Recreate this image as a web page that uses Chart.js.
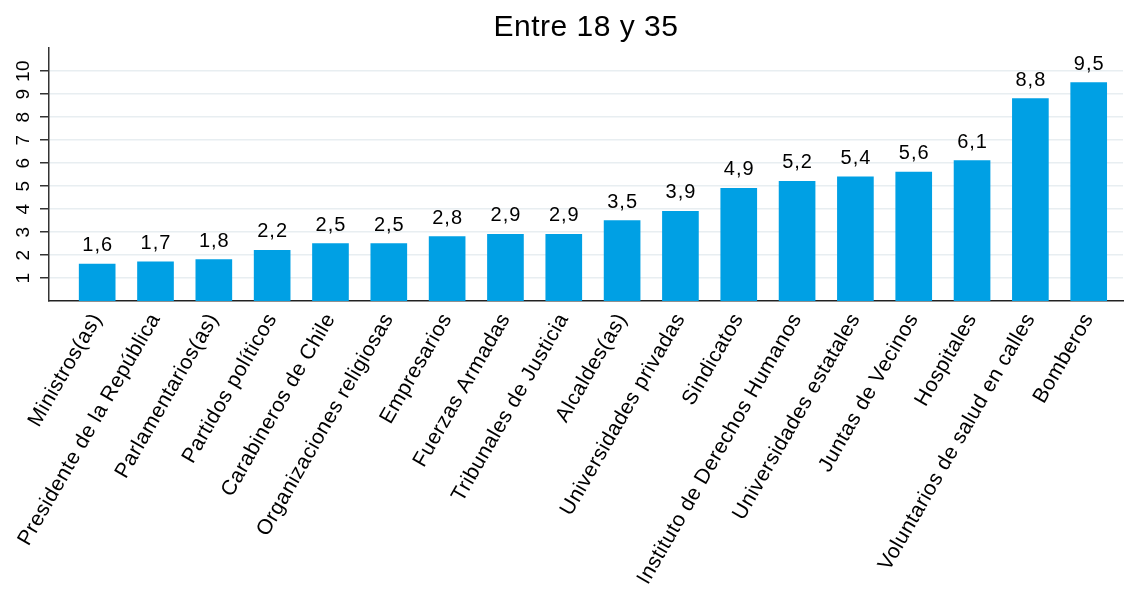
<!DOCTYPE html>
<html>
<head>
<meta charset="utf-8">
<script src="https://cdn.jsdelivr.net/npm/chart.js@4.4.1/dist/chart.umd.min.js"></script>
<style>
  html, body { margin: 0; padding: 0; background: #ffffff; }
  #wrap { width: 1125px; height: 595px; position: relative; }
</style>
</head>
<body>
<div id="wrap"><canvas id="c" width="1125" height="595"></canvas></div>
<script>
const chartTitle = "Entre 18 y 35";
const categories = [
  "Ministros(as)", "Presidente de la República", "Parlamentarios(as)", "Partidos políticos",
  "Carabineros de Chile", "Organizaciones religiosas", "Empresarios", "Fuerzas Armadas",
  "Tribunales de Justicia", "Alcaldes(as)", "Universidades privadas", "Sindicatos",
  "Instituto de Derechos Humanos", "Universidades estatales", "Juntas de Vecinos",
  "Hospitales", "Voluntarios de salud en calles", "Bomberos"
];
const values = [1.6, 1.7, 1.8, 2.2, 2.5, 2.5, 2.8, 2.9, 2.9, 3.5, 3.9, 4.9, 5.2, 5.4, 5.6, 6.1, 8.8, 9.5];
const yTicks = [1, 2, 3, 4, 5, 6, 7, 8, 9, 10];

const FONT = "'Liberation Sans', Arial, sans-serif";

const spacing = {
  id: 'spacing',
  beforeUpdate(chart) { chart.ctx.letterSpacing = '0.5px'; },
  beforeDraw(chart) { chart.ctx.letterSpacing = '0.5px'; }
};

const valueLabels = {
  id: 'valueLabels',
  afterDatasetsDraw(chart) {
    const ctx = chart.ctx;
    const meta = chart.getDatasetMeta(0);
    ctx.save();
    ctx.letterSpacing = '1px';
    ctx.font = "20px " + FONT;
    ctx.fillStyle = "#000";
    ctx.textAlign = "center";
    ctx.textBaseline = "alphabetic";
    meta.data.forEach((bar, i) => {
      const v = values[i];
      ctx.fillText(v.toFixed(1).replace('.', ','), bar.x + 0.5, bar.y - 13);
    });
    ctx.restore();
  }
};

new Chart(document.getElementById('c'), {
  type: 'bar',
  data: {
    datasets: [{
      data: values.map((v, i) => ({ x: i, y: v })),
      backgroundColor: 'rgb(0,160,228)',
      borderWidth: 0,
      barThickness: 36
    }]
  },
  options: {
    responsive: false,
    animation: false,
    devicePixelRatio: 1,
    layout: { padding: { left: 0, right: 2, top: 0, bottom: 0 } },
    plugins: {
      legend: { display: false },
      tooltip: { enabled: false },
      title: {
        display: true,
        fullSize: false,
        text: chartTitle,
        color: '#000',
        font: { family: FONT, size: 30, weight: 'normal' },
        padding: { top: 10, bottom: 2 }
      }
    },
    scales: {
      x: {
        type: 'linear',
        offset: false,
        min: -0.826,
        max: 17.588,
        afterBuildTicks(scale) { scale.ticks = categories.map((c, i) => ({ value: i })); },
        afterFit(scale) { scale.height = 294; },
        grid: { display: false, drawTicks: false },
        border: { display: true, color: '#222', width: 1.5 },
        ticks: {
          autoSkip: false,
          minRotation: 60,
          maxRotation: 60,
          padding: 8,
          color: '#000',
          font: { family: FONT, size: 21 },
          callback(v) { return categories[v]; }
        }
      },
      y: {
        min: 0,
        max: 11,
        afterBuildTicks(scale) { scale.ticks = yTicks.map(v => ({ value: v })); },
        afterFit(scale) { scale.width = 49; },
        grid: { color: '#e8eef1', lineWidth: 1.5, tickLength: 9, tickColor: '#333', drawTicks: true },
        border: { display: true, color: '#333', width: 1.5 },
        ticks: {
          minRotation: 90,
          maxRotation: 90,
          crossAlign: 'center',
          padding: 5,
          color: '#000',
          font: { family: FONT, size: 19 },
          callback(v) { return String(v); }
        }
      }
    }
  },
  plugins: [spacing, valueLabels]
});
</script>
</body>
</html>
